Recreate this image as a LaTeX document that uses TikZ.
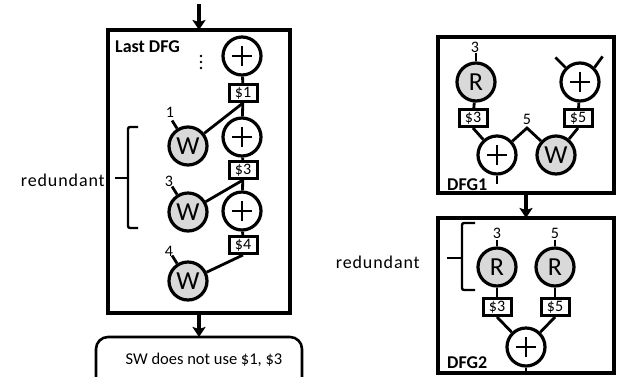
\documentclass[tikz,border=0pt]{standalone}
\usepackage{fontspec}
\setmainfont{Carlito}
\newfontfamily\spaced[LetterSpace=5]{Carlito}
\usetikzlibrary{arrows.meta}
\definecolor{memgray}{HTML}{D9D9D9}
\begin{document}
\begin{tikzpicture}[x=1pt,y=-1pt,
  frame/.style={draw, line width=3.2pt, outer sep=0pt, inner sep=0pt},
  plusnode/.style={circle, draw, line width=3.2pt, minimum size=38pt, inner sep=0pt, fill=white,
    path picture={
      \draw[line width=2pt] ([xshift=-10pt]path picture bounding box.center) -- ([xshift=10pt]path picture bounding box.center);
      \draw[line width=2pt] ([yshift=-10pt]path picture bounding box.center) -- ([yshift=10pt]path picture bounding box.center);}},
  memnode/.style={circle, draw, line width=3.2pt, minimum size=38pt, inner sep=0pt, fill=memgray,
    font=\fontsize{26}{26}\selectfont},
  regbox/.style={draw, line width=3pt, minimum width=28pt, minimum height=17pt, inner sep=0pt, fill=white,
    font=\fontsize{16}{16}\selectfont},
  wire/.style={line width=2.8pt},
  num/.style={font=\fontsize{16}{16}\selectfont, inner sep=0pt},
  lbl/.style={font=\fontsize{18}{18}\selectfont\bfseries, inner sep=0pt},
  note/.style={font=\spaced\fontsize{18}{18}\selectfont, inner sep=0pt},
  flow/.style={line width=3.2pt, -{Stealth[length=10pt,width=13pt,inset=2pt]}},
  brace/.style={line width=2.4pt, rounded corners=2pt},
]
\useasboundingbox (0,0) rectangle (624,376);

% ---------- left: Last DFG ----------
\node[frame, minimum width=182pt, minimum height=283pt] (lastbox) at (199,171.5) {};
\coordinate (in) at (199,4);
\draw[flow] (in) -- (lastbox.north);
\node[lbl, anchor=west] (lastlbl) at (115,47) {Last DFG};
\foreach \yy in {56,62,68} \fill (201,\yy) circle (1.3pt);

\node[plusnode] (p1) at (242,56) {};
\node[regbox] (r1) at (243,93) {\$1};
\node[plusnode] (p2) at (242,137) {};
\node[regbox] (r3) at (243,170) {\$3};
\node[plusnode] (p3) at (242,211) {};
\node[regbox] (r4) at (243,245) {\$4};
\node[memnode] (w1) at (188,146) {W};
\node[memnode] (w3) at (188,212) {W};
\node[memnode] (w4) at (188,281) {W};
\node[num] (n1) at (170,112) {1};
\node[num] (n3) at (169,181) {3};
\node[num] (n4) at (169,251) {4};
\draw[wire] (w1.122) -- +(-5,-8);
\draw[wire] (w3.122) -- +(-5,-8);
\draw[wire] (w4.122) -- +(-5,-8);

\draw[wire] (p1) -- (r1);
\draw[wire] (r1) -- (p2);
\draw[wire] (p2) -- (r3);
\draw[wire] (r3) -- (p3);
\draw[wire] (p3) -- (r4);
\draw[wire] (w1) -- (r1.south);
\draw[wire] (w3) -- (r3.south);
\draw[wire] (w4) -- (r4.south);

% bracket left
\draw[brace] (138,127) -- (128,127) -- (128,228) -- (138,228);
\coordinate (bl) at (128,178);
\draw[brace] (bl) -- +(-13,0);
\node[note, anchor=east] (red1) at (105,180) {redundant};

% result note
\coordinate (notetop) at (199,337);
\draw[flow] (lastbox.south) -- (notetop);
\draw[line width=2.6pt, rounded corners=12pt] (96,378) -- (96,337) -- (302,337) -- (302,378);
\node[font=\fontsize{16.5}{16.5}\selectfont, inner sep=0pt] (sw) at (204,360) {SW does not use \$1, \$3};

% ---------- DFG1 ----------
\node[frame, minimum width=176pt, minimum height=156pt] (dfg1) at (526,115) {};
\node[lbl, anchor=west] (d1lbl) at (447,185) {DFG1};
\node[memnode] (ra) at (476,82) {R};
\node[regbox] (ra3) at (473,118) {\$3};
\node[plusnode] (pa) at (497,155) {};
\node[memnode] (wa) at (556,155) {W};
\node[plusnode] (pb) at (580,82) {};
\node[regbox] (rb5) at (578,118) {\$5};
\node[num] (na3) at (475,47) {3};
\draw[wire] (ra.north) -- +(0,-8);
\draw[wire] (pb.135) -- +(-10,-10);
\draw[wire] (pb.45) -- +(8,-11);
\draw[wire] (pa.south) -- +(0,8);
\draw[wire] (ra) -- (ra3);
\draw[wire] (ra3.south) -- (pa);
\draw[wire] (pb) -- (rb5);
\draw[wire] (rb5.south) -- (wa);
\coordinate (pk) at (527,128);
\draw[wire] (pa) -- (pk) -- (wa);
\node[num] (n5) at (527,119) {5};

% ---------- DFG2 ----------
\node[frame, minimum width=176pt, minimum height=155pt] (dfg2) at (526,295.5) {};
\draw[flow] (dfg1.south) -- (dfg2.north);
\node[lbl, anchor=west] (d2lbl) at (447,363) {DFG2};
\node[memnode] (rc) at (497,267) {R};
\node[memnode] (rd) at (555,267) {R};
\node[num] (nc3) at (497,233) {3};
\node[num] (nd5) at (555,233) {5};
\draw[wire] (rc.north) -- +(0,-6);
\draw[wire] (rd.north) -- +(0,-6);
\node[regbox] (rc3) at (497,307) {\$3};
\node[regbox] (rd5) at (555,307) {\$5};
\node[plusnode] (pc) at (526,347) {};
\draw[wire] (rc) -- (rc3);
\draw[wire] (rd) -- (rd5);
\draw[wire] (rc3.south) -- (pc);
\draw[wire] (rd5.south) -- (pc);
\draw[wire] (pc.south) -- +(0,6);

% bracket right
\draw[brace] (475,223) -- (462,223) -- (462,290) -- (475,290);
\coordinate (br) at (462,258);
\draw[brace] (br) -- +(-15,0);
\node[note, anchor=east] (red2) at (420,262) {redundant};
\end{tikzpicture}
\end{document}
